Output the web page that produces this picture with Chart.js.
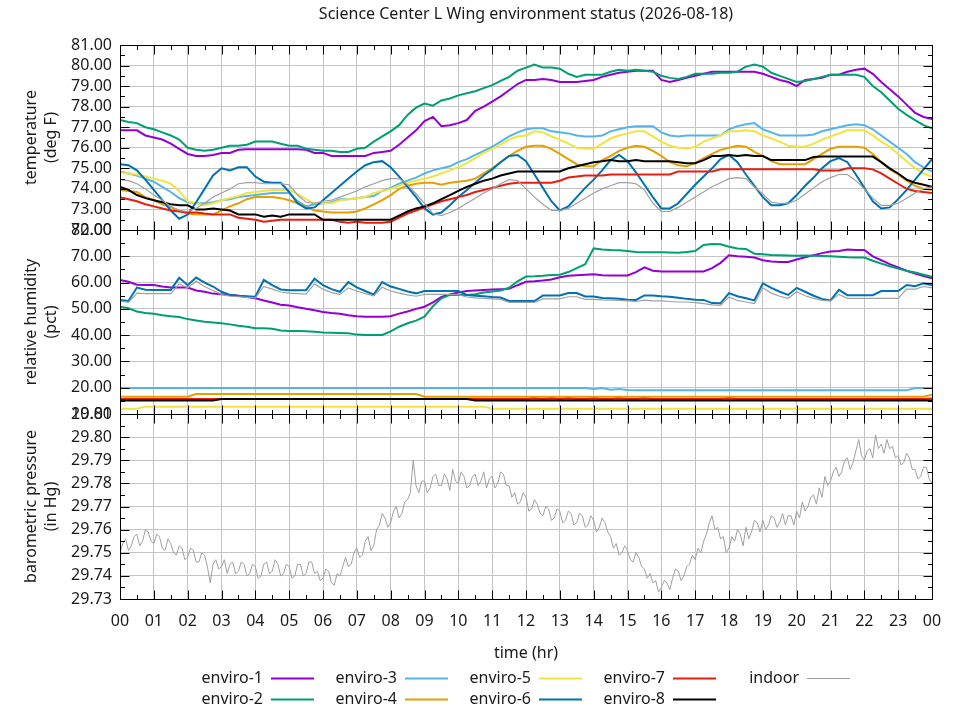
<!DOCTYPE html>
<html>
<head>
<meta charset="utf-8">
<script src="https://cdn.jsdelivr.net/npm/chart.js@4.4.1/dist/chart.umd.min.js"></script>
<style>
  body { margin: 0; background: #fff; }
  #wrap { position: relative; width: 960px; height: 720px; }
  canvas { position: absolute; left: 0; }
</style>
</head>
<body>
<div id="wrap">
  <canvas id="cTemp" width="960" height="240" style="top:0px"></canvas>
  <canvas id="cHum" width="960" height="204" style="top:220px"></canvas>
  <canvas id="cPres" width="960" height="316" style="top:404px"></canvas>
</div>
<script>
// series info
const seriesNames = ['enviro-1', 'enviro-2', 'enviro-3', 'enviro-4', 'enviro-5',
                     'enviro-6', 'enviro-7', 'enviro-8', 'indoor'];
const seriesColors = ['#9400d3', '#009e73', '#56b4e9', '#e69f00', '#f0e442',
                      '#0072b2', '#e51e10', '#000000', '#a0a0a0'];
const seriesWidths = [2, 2, 2, 2, 2, 2, 2, 2, 1.2];

// sample times (hours), every 15 min for temp/humidity, every 5 min for pressure
const sampleHours = Array.from({ length: 97 }, (_, i) => i * 0.25);
const presHours = Array.from({ length: 289 }, (_, i) => i / 12);

// ticks
const hourTicks = [0, 1, 2, 3, 4, 5, 6, 7, 8, 9, 10, 11, 12, 13, 14, 15, 16, 17, 18, 19, 20, 21, 22, 23, 24];
const hourLabels = ['00', '01', '02', '03', '04', '05', '06', '07', '08', '09', '10', '11', '12',
                    '13', '14', '15', '16', '17', '18', '19', '20', '21', '22', '23', '00'];
const tempTicks = [72, 73, 74, 75, 76, 77, 78, 79, 80, 81];
const humTicks = [10, 20, 30, 40, 50, 60, 70, 80];
const presTicks = [29.73, 29.74, 29.75, 29.76, 29.77, 29.78, 29.79, 29.80, 29.81];

// temperature (deg F)
const tempE1 = [
  76.85, 76.85, 76.85, 76.6,
  76.5, 76.4, 76.2, 75.95,
  75.7, 75.6, 75.6, 75.65,
  75.75, 75.75, 75.9, 75.93,
  75.93, 75.93, 75.93, 75.93,
  75.93, 75.93, 75.9, 75.75,
  75.75, 75.6, 75.6, 75.6,
  75.6, 75.6, 75.75, 75.8,
  75.85, 76.15, 76.5, 76.85,
  77.3, 77.5, 77.05, 77.1,
  77.2, 77.35, 77.8, 78.0,
  78.25, 78.5, 78.8, 79.1,
  79.3, 79.3, 79.35, 79.3,
  79.2, 79.2, 79.2, 79.25,
  79.3, 79.45, 79.55, 79.65,
  79.7, 79.75, 79.75, 79.75,
  79.3, 79.2, 79.3, 79.4,
  79.5, 79.6, 79.7, 79.7,
  79.7, 79.7, 79.7, 79.7,
  79.6, 79.45, 79.3, 79.2,
  79.0, 79.3, 79.35, 79.4,
  79.55, 79.55, 79.7, 79.8,
  79.85, 79.6, 79.2, 78.85,
  78.5, 78.1, 77.7, 77.5,
  77.4
];
const tempE2 = [
  77.35, 77.25, 77.2, 77.0,
  76.9, 76.75, 76.6, 76.4,
  76.0, 75.9, 75.85, 75.9,
  76.0, 76.1, 76.1, 76.15,
  76.3, 76.3, 76.3, 76.2,
  76.1, 76.1, 75.95, 75.9,
  75.85, 75.85, 75.8, 75.8,
  75.95, 76.0, 76.3, 76.55,
  76.8, 77.1, 77.6, 77.95,
  78.15, 78.05, 78.3, 78.4,
  78.55, 78.65, 78.75, 78.9,
  79.05, 79.25, 79.45, 79.75,
  79.9, 80.05, 79.9, 79.9,
  79.85, 79.6, 79.45, 79.55,
  79.55, 79.55, 79.7, 79.8,
  79.75, 79.8, 79.75, 79.7,
  79.5, 79.4, 79.35, 79.45,
  79.6, 79.6, 79.6, 79.65,
  79.65, 79.7, 79.95, 80.05,
  79.95, 79.65, 79.5, 79.35,
  79.2, 79.25, 79.35, 79.45,
  79.55, 79.55, 79.55, 79.55,
  79.45, 79.0, 78.7, 78.3,
  77.9, 77.6, 77.35, 77.1,
  76.95
];
const tempE3 = [
  74.85, 74.75, 74.65, 74.5,
  74.35, 74.1, 73.85, 73.55,
  73.35, 73.3, 73.3, 73.35,
  73.45, 73.5, 73.6, 73.65,
  73.7, 73.75, 73.8, 73.8,
  73.8, 73.4, 73.15, 73.25,
  73.3, 73.35, 73.5, 73.5,
  73.55, 73.6, 73.65, 73.9,
  74.05, 74.25, 74.4, 74.55,
  74.75, 74.9, 75.0, 75.1,
  75.3, 75.45, 75.65, 75.85,
  76.05, 76.3, 76.55, 76.75,
  76.9, 76.95, 76.95, 76.8,
  76.75, 76.7, 76.6, 76.55,
  76.55, 76.6, 76.8, 76.9,
  77.0, 77.05, 77.05, 77.05,
  76.75, 76.6, 76.55, 76.6,
  76.6, 76.6, 76.6, 76.6,
  76.9, 77.05, 77.15, 77.2,
  76.9, 76.75, 76.6, 76.6,
  76.6, 76.6, 76.65, 76.8,
  76.9, 77.0, 77.1, 77.15,
  77.1, 76.9, 76.6, 76.3,
  76.0, 75.7, 75.3, 75.05,
  74.85
];
const tempE4 = [
  73.95, 73.9, 73.85, 73.6,
  73.45, 73.25, 73.1, 72.95,
  72.8, 72.75, 72.75, 72.75,
  72.95, 73.15, 73.3, 73.5,
  73.6, 73.6, 73.6, 73.55,
  73.45, 73.3, 73.1, 72.95,
  72.9, 72.85, 72.85, 72.85,
  72.9, 73.05, 73.25, 73.45,
  73.7, 74.0, 74.15, 74.25,
  74.3, 74.3, 74.2, 74.3,
  74.35, 74.4, 74.5, 74.75,
  75.0, 75.3, 75.6, 75.85,
  76.05, 76.1, 76.1, 75.95,
  75.7, 75.45, 75.2, 75.1,
  75.1, 75.4, 75.6, 75.85,
  76.0, 76.1, 76.05, 75.85,
  75.6, 75.3, 75.15, 75.1,
  75.25, 75.5, 75.7, 75.9,
  76.0, 76.1, 76.05, 75.8,
  75.6, 75.35, 75.2, 75.2,
  75.2, 75.2, 75.45, 75.7,
  75.95, 76.05, 76.05, 76.05,
  76.0, 75.7, 75.3, 74.95,
  74.7, 74.4, 74.15, 74.0,
  73.95
];
const tempE5 = [
  74.8, 74.75, 74.7, 74.6,
  74.5, 74.4, 74.25, 73.9,
  73.4, 73.3, 73.2, 73.3,
  73.45, 73.55, 73.65, 73.8,
  73.85, 73.9, 73.95, 73.95,
  73.95, 73.75, 73.5, 73.3,
  73.3, 73.3, 73.45, 73.5,
  73.55, 73.6, 73.8, 73.9,
  74.0, 74.15, 74.3, 74.4,
  74.5, 74.6, 74.75, 74.9,
  75.05, 75.25, 75.5, 75.75,
  75.95, 76.15, 76.4, 76.55,
  76.6, 76.8, 76.75, 76.55,
  76.4, 76.2, 76.0, 75.95,
  75.95, 76.2, 76.45, 76.6,
  76.7, 76.8, 76.8, 76.55,
  76.3, 76.1, 76.0, 75.95,
  76.05, 76.3, 76.45, 76.6,
  76.8, 76.8, 76.85, 76.8,
  76.6, 76.45, 76.3, 76.1,
  76.05, 76.05, 76.2, 76.4,
  76.55, 76.7, 76.85, 76.85,
  76.85, 76.6, 76.3, 76.05,
  75.7, 75.35, 75.0, 74.75,
  74.6
];
const tempE6 = [
  75.2, 75.15, 74.9, 74.45,
  73.95, 73.45, 72.95, 72.55,
  72.75, 73.35, 74.0, 74.65,
  75.0, 74.9, 75.05, 75.05,
  74.6, 74.35, 74.3, 74.3,
  73.85, 73.3, 73.05, 73.1,
  73.45, 73.8, 74.15, 74.5,
  74.85, 75.15, 75.3, 75.35,
  75.05, 74.6, 74.1, 73.6,
  73.05, 72.75, 72.85, 73.2,
  73.6, 73.95, 74.3, 74.65,
  74.95, 75.3, 75.6, 75.65,
  75.35, 74.7, 74.05, 73.4,
  72.95, 73.15, 73.6, 74.05,
  74.45, 74.9, 75.4, 75.65,
  75.35, 74.8, 74.2, 73.6,
  73.05, 73.05, 73.3, 73.75,
  74.2, 74.6, 75.0, 75.45,
  75.65, 75.3, 74.7, 74.15,
  73.6, 73.2, 73.2, 73.3,
  73.7, 74.15, 74.55, 75.0,
  75.35, 75.5, 75.3, 74.7,
  74.05, 73.4, 73.05, 73.1,
  73.5, 73.95, 74.45, 74.95,
  75.45
];
const tempE7 = [
  73.6, 73.5, 73.4, 73.25,
  73.15, 73.05, 72.95, 72.9,
  72.85, 72.85, 72.8, 72.76,
  72.76, 72.76, 72.6, 72.55,
  72.5, 72.4, 72.45, 72.5,
  72.5, 72.5, 72.5, 72.5,
  72.5, 72.5, 72.4, 72.35,
  72.4, 72.35, 72.35, 72.35,
  72.4, 72.6, 72.8, 72.95,
  73.1, 73.25, 73.4, 73.5,
  73.6, 73.7, 73.85, 73.95,
  74.05, 74.15, 74.25, 74.3,
  74.3, 74.3, 74.3, 74.3,
  74.4, 74.55, 74.6, 74.65,
  74.65, 74.65, 74.7, 74.7,
  74.7, 74.7, 74.7, 74.7,
  74.7, 74.7, 74.85, 74.85,
  74.85, 74.85, 74.85, 74.95,
  74.95, 74.95, 74.95, 74.95,
  74.95, 74.95, 74.95, 74.95,
  74.95, 74.95, 74.95, 74.9,
  74.9, 74.9, 75.0, 75.0,
  75.0, 74.95, 74.75, 74.5,
  74.25, 74.0, 73.9, 73.85,
  73.8
];
const tempE8 = [
  74.1, 73.95, 73.7, 73.55,
  73.45, 73.35, 73.25, 73.2,
  73.2, 73.0, 73.0, 73.05,
  73.0, 72.95, 72.76, 72.76,
  72.76, 72.65, 72.7, 72.65,
  72.76, 72.76, 72.76, 72.76,
  72.5, 72.5, 72.5, 72.5,
  72.5, 72.5, 72.5, 72.5,
  72.5, 72.7, 72.9, 73.05,
  73.15, 73.3, 73.5, 73.7,
  73.9, 74.1, 74.25, 74.4,
  74.5, 74.65, 74.75, 74.85,
  74.85, 74.85, 74.85, 74.85,
  74.85, 75.0, 75.1, 75.2,
  75.3, 75.35, 75.4, 75.35,
  75.35, 75.4, 75.35, 75.35,
  75.35, 75.35, 75.3, 75.25,
  75.25, 75.4, 75.6, 75.6,
  75.65, 75.6, 75.65, 75.6,
  75.6, 75.4, 75.4, 75.4,
  75.4, 75.4, 75.55, 75.57,
  75.57, 75.57, 75.57, 75.57,
  75.57, 75.57, 75.3, 75.0,
  74.75, 74.45, 74.3, 74.2,
  74.1
];
const tempIndoor = [
  74.45, 74.4, 74.25, 74.0,
  73.7, 73.45, 73.15, 72.95,
  72.9, 73.05, 73.3, 73.6,
  73.8, 74.0, 74.25, 74.3,
  74.3, 74.25, 74.25, 74.25,
  74.2, 73.7, 73.35, 73.3,
  73.4, 73.45, 73.6, 73.75,
  73.9, 74.1, 74.25, 74.4,
  74.5, 74.5, 74.2, 73.75,
  73.3, 72.8, 72.7, 72.85,
  73.05, 73.3, 73.55, 73.8,
  74.0, 74.25, 74.45, 74.4,
  74.0, 73.6, 73.25, 72.95,
  72.95, 73.05, 73.3, 73.55,
  73.8, 74.0, 74.15, 74.3,
  74.3, 74.25, 73.95, 73.3,
  72.9, 72.9, 73.1, 73.35,
  73.6, 73.85, 74.1, 74.3,
  74.5, 74.55, 74.5, 74.1,
  73.75, 73.35, 73.3, 73.3,
  73.45, 73.75, 74.05, 74.35,
  74.55, 74.7, 74.7, 74.4,
  74.0, 73.55, 73.2, 73.2,
  73.3, 73.55, 73.8, 74.0,
  74.1
];

// relative humidity (pct)
const humE1 = [
  61.0, 60.3, 59.2, 59.1,
  59.1, 58.5, 58.1, 58.1,
  58.1, 57.0, 56.5, 55.8,
  55.6, 55.3, 55.0, 54.5,
  54.0, 53.2, 52.4, 51.6,
  51.3, 50.6, 50.0, 49.5,
  48.8, 48.4, 48.1, 47.6,
  47.2, 47.0, 47.0, 47.0,
  47.2, 48.2, 49.0, 50.0,
  50.8, 52.5, 54.5, 55.5,
  56.2, 56.8, 57.0, 57.2,
  57.4, 57.5, 57.6, 59.0,
  60.3, 60.5, 60.8, 61.2,
  62.0, 62.6, 62.8, 63.0,
  63.2, 62.8, 62.7, 62.7,
  62.7, 64.0, 65.8, 64.5,
  64.2, 64.2, 64.2, 64.2,
  64.2, 64.2, 65.5, 67.5,
  70.4, 70.0, 69.8, 69.5,
  68.5, 68.0, 67.8, 67.8,
  68.8, 69.6, 70.4, 71.2,
  71.8, 72.0, 72.6, 72.4,
  72.4, 70.0, 68.5, 67.0,
  65.8, 64.5, 63.4, 62.5,
  61.6
];
const humE2 = [
  50.8, 50.2, 49.0, 48.4,
  48.1, 47.6, 47.2, 46.9,
  46.1, 45.6, 45.1, 44.8,
  44.5, 44.1, 43.6, 43.2,
  42.6, 42.6, 42.4, 41.8,
  41.6, 41.6, 41.5, 41.3,
  41.0, 40.9, 40.8, 40.7,
  40.2, 40.1, 40.1, 40.1,
  41.4, 43.2, 44.5, 45.5,
  47.0, 51.0, 54.0, 55.3,
  55.3, 55.3, 55.6, 56.2,
  56.6, 57.0, 58.0, 60.5,
  62.3, 62.4, 62.6, 62.9,
  63.0, 64.0, 65.5, 67.0,
  73.0, 72.6, 72.4, 72.3,
  72.0, 71.6, 71.5, 71.5,
  71.5, 71.4, 71.3, 71.6,
  72.0, 74.3, 74.7, 74.6,
  73.6, 73.0, 72.8, 71.0,
  70.8, 70.5, 70.4, 70.3,
  70.2, 70.3, 70.2, 70.1,
  70.0, 69.8, 69.6, 69.5,
  69.5, 68.3, 67.2, 66.2,
  65.3, 64.5, 63.8, 63.0,
  62.2
];
const humE3 = [
  19.9, 19.9, 19.9, 19.9,
  19.9, 19.9, 19.9, 19.9,
  19.9, 19.9, 19.9, 19.9,
  19.9, 19.9, 19.9, 19.9,
  19.9, 19.9, 19.9, 19.9,
  19.9, 19.9, 19.9, 19.9,
  19.9, 19.9, 19.9, 19.9,
  19.9, 19.9, 19.9, 19.9,
  19.9, 19.9, 19.9, 19.9,
  19.9, 19.9, 19.9, 19.9,
  19.9, 19.9, 19.9, 19.9,
  19.9, 19.9, 19.9, 19.9,
  19.9, 19.9, 19.9, 19.9,
  19.9, 19.9, 19.9, 19.9,
  19.5, 19.9, 19.2, 19.5,
  19.1, 19.0, 19.0, 19.0,
  19.0, 19.0, 19.0, 19.0,
  19.0, 19.0, 19.0, 19.0,
  19.0, 19.0, 19.0, 19.0,
  19.0, 19.0, 19.0, 19.0,
  19.0, 19.0, 19.0, 19.0,
  19.0, 19.0, 19.0, 19.0,
  19.0, 19.0, 19.0, 19.0,
  19.0, 19.0, 19.9, 19.9,
  19.9
];
const humE4 = [
  16.6, 16.6, 16.6, 16.6,
  16.6, 16.6, 16.6, 16.6,
  16.6, 17.6, 17.6, 17.6,
  17.6, 17.6, 17.6, 17.6,
  17.6, 17.6, 17.6, 17.6,
  17.6, 17.6, 17.6, 17.6,
  17.6, 17.6, 17.6, 17.6,
  17.6, 17.6, 17.6, 17.6,
  17.6, 17.6, 17.6, 17.6,
  16.6, 16.6, 16.6, 16.6,
  16.6, 16.6, 16.6, 16.6,
  16.6, 16.6, 16.6, 16.6,
  16.6, 16.6, 16.6, 16.6,
  16.6, 16.6, 16.6, 16.6,
  16.6, 16.6, 16.6, 16.6,
  16.6, 16.6, 16.6, 16.6,
  16.6, 16.6, 16.6, 16.6,
  16.6, 16.6, 16.6, 16.6,
  16.6, 16.6, 16.6, 16.6,
  16.6, 16.6, 16.6, 16.6,
  16.6, 16.6, 16.6, 16.6,
  16.6, 16.6, 16.6, 16.6,
  16.6, 16.6, 16.6, 16.6,
  16.6, 16.6, 16.6, 16.6,
  17.3
];
const humE5 = [
  12.0, 12.0, 12.0, 12.8,
  12.8, 12.8, 12.8, 12.8,
  12.8, 12.8, 12.8, 12.8,
  12.8, 12.8, 12.8, 12.8,
  12.8, 12.8, 12.8, 12.8,
  12.8, 12.8, 12.8, 12.8,
  12.8, 12.8, 12.8, 12.8,
  12.8, 12.8, 12.8, 12.8,
  12.8, 12.8, 12.8, 12.8,
  12.8, 12.8, 12.8, 12.8,
  12.8, 12.8, 12.8, 12.8,
  12.0, 12.0, 12.0, 12.0,
  12.0, 12.0, 12.0, 12.0,
  12.0, 12.0, 12.0, 12.0,
  12.0, 12.0, 12.0, 12.0,
  12.0, 12.0, 12.0, 12.0,
  12.0, 12.0, 12.0, 12.0,
  12.0, 12.0, 12.0, 12.0,
  12.0, 12.0, 12.0, 12.0,
  12.0, 12.0, 12.0, 12.0,
  12.0, 12.0, 12.0, 12.0,
  12.0, 12.0, 12.0, 12.0,
  12.0, 12.0, 12.0, 12.0,
  12.0, 12.0, 12.0, 12.0,
  12.0
];
const humE6 = [
  53.4, 53.0, 58.1, 57.3,
  57.2, 57.2, 57.2, 61.8,
  59.0, 61.9, 60.0, 58.5,
  56.5, 55.3, 55.0, 54.8,
  54.6, 61.0, 59.0, 57.4,
  57.1, 57.1, 57.1, 61.5,
  59.0, 57.5, 56.5, 60.2,
  58.2, 56.8, 55.4, 60.2,
  58.5, 57.6, 56.6, 55.9,
  56.8, 56.8, 56.8, 56.8,
  56.8, 55.3, 55.0, 54.8,
  54.5, 54.3, 53.0, 53.0,
  53.0, 53.0, 55.1, 55.1,
  55.1, 56.0, 56.0, 54.7,
  54.7, 54.1, 54.0, 53.8,
  53.5, 53.4, 55.1, 55.1,
  54.8, 54.6, 54.2, 53.8,
  53.5, 53.4, 52.2, 52.1,
  56.0, 54.8, 54.0, 53.2,
  59.7, 58.0, 56.5, 55.3,
  58.0, 56.5, 55.0, 53.8,
  53.2, 57.2, 55.2, 55.2,
  55.2, 55.2, 56.8, 56.8,
  56.8, 59.1, 58.6, 59.7,
  59.0
];
const humE7 = [
  15.7, 15.7, 15.7, 15.7,
  15.7, 15.7, 15.7, 15.7,
  15.7, 15.7, 15.7, 15.7,
  15.7, 15.7, 15.7, 15.7,
  15.7, 15.7, 15.7, 15.7,
  15.7, 15.7, 15.7, 15.7,
  15.7, 15.7, 15.7, 15.7,
  15.7, 15.7, 15.7, 15.7,
  15.7, 15.7, 15.7, 15.7,
  15.7, 15.7, 15.7, 15.7,
  15.7, 15.7, 15.7, 15.7,
  15.7, 15.7, 15.7, 15.7,
  15.7, 15.9, 15.7, 15.9,
  15.7, 15.9, 15.7, 15.7,
  15.9, 15.7, 15.7, 15.9,
  15.7, 15.7, 15.9, 15.7,
  15.7, 15.7, 15.7, 15.7,
  15.7, 15.7, 15.7, 15.7,
  15.9, 15.7, 15.7, 15.7,
  15.7, 15.7, 15.7, 15.7,
  15.7, 15.7, 15.7, 15.7,
  15.7, 15.7, 15.7, 15.7,
  15.7, 15.7, 15.7, 15.7,
  15.7, 15.7, 15.7, 15.7,
  15.9
];
const humE8 = [
  15.1, 15.1, 15.1, 15.1,
  15.1, 15.1, 15.1, 15.1,
  15.1, 15.1, 15.1, 15.1,
  15.7, 15.7, 15.7, 15.7,
  15.7, 15.7, 15.7, 15.7,
  15.7, 15.7, 15.7, 15.7,
  15.7, 15.7, 15.7, 15.7,
  15.7, 15.7, 15.7, 15.7,
  15.7, 15.7, 15.7, 15.7,
  15.7, 15.7, 15.7, 15.7,
  15.7, 15.7, 15.1, 15.1,
  15.1, 15.1, 15.1, 15.1,
  15.1, 15.1, 15.1, 15.1,
  15.1, 15.1, 15.1, 15.1,
  15.1, 15.1, 15.1, 15.1,
  15.1, 15.1, 15.1, 15.1,
  15.1, 15.1, 15.1, 15.1,
  15.1, 15.1, 15.1, 15.1,
  15.1, 15.1, 15.1, 15.1,
  15.1, 15.1, 15.1, 15.1,
  15.1, 15.1, 15.1, 15.1,
  15.1, 15.1, 15.1, 15.1,
  15.1, 15.1, 15.1, 15.1,
  15.1, 15.1, 15.1, 15.1,
  15.1
];
const humIndoor = [
  53.0, 52.5, 56.0, 55.8,
  55.8, 55.8, 55.8, 59.5,
  58.0, 60.5, 58.5, 57.0,
  55.5, 54.8, 54.6, 54.4,
  54.2, 58.5, 57.5, 56.4,
  56.0, 55.8, 55.6, 59.5,
  57.5, 56.2, 55.5, 58.0,
  56.8, 55.8, 55.0, 58.2,
  56.8, 56.0, 55.3, 54.8,
  55.5, 55.5, 55.5, 55.5,
  55.4, 54.5, 54.2, 54.0,
  53.8, 53.6, 52.5, 52.5,
  52.5, 52.5, 53.8, 53.8,
  53.8, 54.6, 54.6, 53.6,
  53.6, 53.4, 53.3, 53.2,
  53.0, 52.8, 53.3, 53.0,
  53.0, 52.8, 52.6, 52.6,
  52.4, 52.0, 51.5, 51.3,
  54.5, 53.2, 52.6, 52.0,
  58.0, 56.0, 54.8, 54.0,
  56.5, 55.0, 54.0, 53.2,
  53.0, 55.5, 54.0, 54.0,
  54.0, 54.0, 54.0, 54.0,
  54.0, 57.5, 57.5, 58.5,
  58.0
];

// barometric pressure (in Hg), indoor only, 12 readings per hour
const presIndoor = [
  29.750, 29.754, 29.756, 29.751, 29.753, 29.757, 29.758, 29.753, 29.755, 29.760, 29.759, 29.755,
  29.754, 29.758, 29.757, 29.752, 29.751, 29.756, 29.754, 29.750, 29.749, 29.753, 29.752, 29.747,
  29.748, 29.752, 29.751, 29.746, 29.746, 29.750, 29.749, 29.744, 29.737, 29.745, 29.747, 29.743,
  29.744, 29.747, 29.741, 29.745, 29.746, 29.741, 29.742, 29.746, 29.745, 29.740, 29.741, 29.745,
  29.744, 29.739, 29.740, 29.745, 29.746, 29.741, 29.742, 29.747, 29.745, 29.740, 29.741, 29.745,
  29.744, 29.739, 29.740, 29.745, 29.745, 29.740, 29.741, 29.746, 29.746, 29.741, 29.742, 29.738,
  29.739, 29.743, 29.742, 29.737, 29.736, 29.741, 29.740, 29.744, 29.748, 29.744, 29.745, 29.750,
  29.752, 29.748, 29.749, 29.755, 29.757, 29.751, 29.753, 29.760, 29.762, 29.767, 29.765, 29.761,
  29.763, 29.768, 29.770, 29.765, 29.767, 29.772, 29.773, 29.776, 29.790, 29.779, 29.776, 29.781,
  29.781, 29.776, 29.778, 29.783, 29.784, 29.779, 29.779, 29.784, 29.782, 29.777, 29.786, 29.781,
  29.780, 29.785, 29.783, 29.778, 29.779, 29.783, 29.784, 29.779, 29.781, 29.785, 29.778, 29.782,
  29.783, 29.778, 29.780, 29.785, 29.784, 29.779, 29.779, 29.774, 29.776, 29.771, 29.772, 29.776,
  29.774, 29.768, 29.769, 29.773, 29.771, 29.767, 29.766, 29.770, 29.769, 29.764, 29.765, 29.769,
  29.768, 29.763, 29.764, 29.768, 29.767, 29.762, 29.763, 29.767, 29.766, 29.761, 29.762, 29.766,
  29.764, 29.759, 29.761, 29.765, 29.763, 29.759, 29.757, 29.752, 29.754, 29.749, 29.750, 29.753,
  29.751, 29.747, 29.746, 29.750, 29.748, 29.744, 29.743, 29.739, 29.741, 29.737, 29.738, 29.733,
  29.735, 29.738, 29.737, 29.734, 29.739, 29.743, 29.742, 29.738, 29.740, 29.744, 29.745, 29.749,
  29.747, 29.752, 29.750, 29.755, 29.758, 29.763, 29.766, 29.760, 29.761, 29.756, 29.757, 29.750,
  29.752, 29.757, 29.755, 29.760, 29.758, 29.753, 29.761, 29.756, 29.759, 29.764, 29.763, 29.759,
  29.764, 29.760, 29.762, 29.766, 29.765, 29.761, 29.763, 29.767, 29.762, 29.766, 29.766, 29.762,
  29.768, 29.765, 29.772, 29.768, 29.770, 29.774, 29.775, 29.771, 29.778, 29.774, 29.783, 29.779,
  29.781, 29.785, 29.787, 29.783, 29.785, 29.790, 29.791, 29.786, 29.789, 29.794, 29.799, 29.792,
  29.790, 29.794, 29.795, 29.791, 29.801, 29.795, 29.797, 29.793, 29.799, 29.795, 29.796, 29.791,
  29.792, 29.788, 29.789, 29.793, 29.791, 29.786, 29.786, 29.782, 29.783, 29.787, 29.787, 29.782,
  29.780
];

const GRID = '#c4c4c4';
const FONT = { size: 16, lineHeight: 1.25 };

Chart.defaults.font.family = '"Noto Sans", "DejaVu Sans", sans-serif';
Chart.defaults.font.size = 16;
Chart.defaults.color = '#1a1a1a';

function fixedTicks(values) {
  return function (scale) {
    scale.ticks = values.map(v => ({ value: v }));
  };
}

// border + inward major/minor ticks on all four sides, like gnuplot
const gnuplotFrame = {
  id: 'gnuplotFrame',
  afterDatasetsDraw(chart) {
    const { ctx, chartArea: a } = chart;
    const xs = chart.scales.x, ys = chart.scales.y;
    const L = Math.round(a.left) + 0.5, R = Math.round(a.right) + 0.5;
    const T = Math.round(a.top) + 0.5, B = Math.round(a.bottom) + 0.5;
    ctx.save();
    ctx.strokeStyle = '#000';
    ctx.lineWidth = 1;
    ctx.beginPath();
    const xv = xs.ticks.map(t => t.value);
    xv.forEach((v, k) => {
      const marks = [[v, 9]];
      if (k < xv.length - 1) marks.push([(v + xv[k + 1]) / 2, 4.5]);
      marks.forEach(([val, len]) => {
        const px = Math.round(xs.getPixelForValue(val)) + 0.5;
        ctx.moveTo(px, B); ctx.lineTo(px, B - len);
        ctx.moveTo(px, T); ctx.lineTo(px, T + len);
      });
    });
    const yv = ys.ticks.map(t => t.value);
    yv.forEach((v, k) => {
      const marks = [[v, 9]];
      if (k < yv.length - 1) marks.push([(v + yv[k + 1]) / 2, 4.5]);
      marks.forEach(([val, len]) => {
        const py = Math.round(ys.getPixelForValue(val)) + 0.5;
        ctx.moveTo(L, py); ctx.lineTo(L + len, py);
        ctx.moveTo(R, py); ctx.lineTo(R - len, py);
      });
    });
    ctx.stroke();
    ctx.strokeRect(L, T, R - L, B - T);
    ctx.restore();
  }
};

// two-row key under the plot: label, then line sample
const keyRows = {
  id: 'keyRows',
  afterDraw(chart) {
    const ctx = chart.ctx;
    ctx.save();
    ctx.font = '16px "Noto Sans", "DejaVu Sans", sans-serif';
    ctx.textAlign = 'right';
    ctx.textBaseline = 'middle';
    seriesNames.forEach((name, i) => {
      const col = i < 8 ? Math.floor(i / 2) : 4;
      const row = i < 8 ? i % 2 : 0;
      const tx = 263 + col * 134;
      const ty = 274 + row * 21;
      ctx.fillStyle = '#1a1a1a';
      ctx.fillText(name, tx, ty);
      ctx.strokeStyle = seriesColors[i];
      ctx.lineWidth = seriesWidths[i];
      ctx.beginPath();
      ctx.moveTo(tx + 8, ty + 0.5);
      ctx.lineTo(tx + 51, ty + 0.5);
      ctx.stroke();
    });
    ctx.restore();
  }
};

function lineSet(i, hours, vals, width) {
  return {
    label: seriesNames[i],
    data: hours.map((h, k) => ({ x: h, y: vals[k] })),
    borderColor: seriesColors[i],
    borderWidth: width || seriesWidths[i],
    pointRadius: 0,
    tension: 0,
    fill: false,
    order: 20 - i
  };
}

function xAxis(showLabels) {
  const ax = {
    type: 'linear', min: 0, max: 24,
    afterBuildTicks: fixedTicks(hourTicks),
    grid: { color: GRID, drawTicks: false },
    border: { display: false },
    ticks: { display: showLabels, padding: 12, maxRotation: 0, autoSkip: false, font: FONT,
             callback: (v, i) => hourLabels[i] }
  };
  if (showLabels) {
    ax.afterFit = s => { s.height = 121; s.paddingLeft = 0; s.paddingRight = 0; };
    ax.title = { display: true, text: 'time (hr)', font: FONT, padding: { top: 0, bottom: 57 } };
  } else {
    ax.afterFit = s => { s.height = 0; s.paddingLeft = 0; s.paddingRight = 0; };
  }
  return ax;
}

function yAxis(min, max, ticks, title) {
  return {
    type: 'linear', min: min, max: max,
    afterBuildTicks: fixedTicks(ticks),
    afterFit: s => { s.width = 120; s.paddingTop = 0; s.paddingBottom = 0; },
    grid: { color: GRID, drawTicks: false },
    border: { display: false },
    ticks: { padding: 8, autoSkip: false, font: FONT, callback: v => v.toFixed(2) },
    title: { display: true, text: title, font: FONT, padding: { top: 21, bottom: 0 } }
  };
}

function baseOptions(yax, showX, padTop, padBottom, title) {
  return {
    responsive: false,
    animation: false,
    devicePixelRatio: 1,
    layout: { padding: { left: 0, right: 28, top: padTop, bottom: padBottom } },
    plugins: {
      legend: { display: false },
      tooltip: { enabled: false },
      title: title ? {
        display: true, text: title, fullSize: false, font: { size: 16, weight: 'normal', lineHeight: 1.25 },
        color: '#1a1a1a', padding: { top: 4, bottom: 21 }
      } : { display: false }
    },
    scales: { x: xAxis(showX), y: yax }
  };
}

const tempSeries = [tempE1, tempE2, tempE3, tempE4, tempE5, tempE6, tempE7, tempE8, tempIndoor];
const humSeries = [humE1, humE2, humE3, humE4, humE5, humE6, humE7, humE8, humIndoor];

new Chart(document.getElementById('cTemp'), {
  type: 'line',
  data: { datasets: tempSeries.map((vals, i) => lineSet(i, sampleHours, vals)) },
  options: baseOptions(yAxis(72, 81, tempTicks, ['temperature', '(deg F)']), false, 0, 10,
                       'Science Center L Wing environment status (2026-08-18)'),
  plugins: [gnuplotFrame]
});

new Chart(document.getElementById('cHum'), {
  type: 'line',
  data: { datasets: humSeries.map((vals, i) => lineSet(i, sampleHours, vals)) },
  options: baseOptions(yAxis(10, 80, humTicks, ['relative humidity', '(pct)']), false, 10, 10, null),
  plugins: [gnuplotFrame]
});

new Chart(document.getElementById('cPres'), {
  type: 'line',
  data: { datasets: [lineSet(8, presHours, presIndoor, 1)] },
  options: baseOptions(yAxis(29.73, 29.81, presTicks, ['barometric pressure', '(in Hg)']), true, 10, 0, null),
  plugins: [gnuplotFrame, keyRows]
});
</script>
</body>
</html>
